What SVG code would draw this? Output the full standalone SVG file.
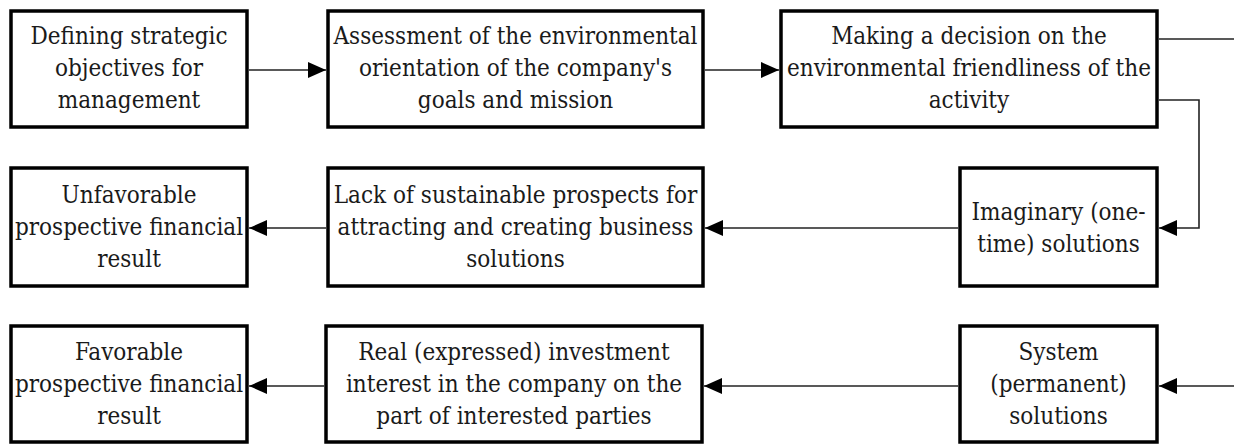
<svg xmlns="http://www.w3.org/2000/svg" width="1234" height="445" viewBox="0 0 1234 445">
  <style>
    .box { fill: #ffffff; stroke: #000000; stroke-width: 3.5; }
    .lbl { font-family: "DejaVu Serif Condensed", serif; font-size: 24px; fill: #1a1a1a; text-anchor: middle; }
    .con { fill: none; stroke: #222222; stroke-width: 1.6; }
  </style>
  <defs>
    <marker id="arr" viewBox="0 0 18 16" refX="18" refY="8" markerWidth="18" markerHeight="16" markerUnits="userSpaceOnUse" orient="auto">
      <path d="M0,0 L18,8 L0,16 Z" fill="#000000"/>
    </marker>
  </defs>
  <rect width="1234" height="445" fill="#ffffff"/>

  <g id="connectors">
    <line class="con" x1="249" y1="70" x2="326" y2="70" marker-end="url(#arr)"/>
    <line class="con" x1="705" y1="70" x2="779" y2="70" marker-end="url(#arr)"/>
    <line class="con" x1="1159" y1="39" x2="1234" y2="39"/>
    <polyline class="con" points="1159,100 1199,100 1199,228 1159,228" marker-end="url(#arr)"/>
    <line class="con" x1="958" y1="228" x2="705" y2="228" marker-end="url(#arr)"/>
    <line class="con" x1="326" y1="228" x2="249" y2="228" marker-end="url(#arr)"/>
    <line class="con" x1="1234" y1="386" x2="1159" y2="386" marker-end="url(#arr)"/>
    <line class="con" x1="958" y1="386" x2="704" y2="386" marker-end="url(#arr)"/>
    <line class="con" x1="324" y1="386" x2="249" y2="386" marker-end="url(#arr)"/>
  </g>

  <g id="n1">
    <rect class="box" x="11" y="11" width="236" height="116"/>
    <text class="lbl" x="129" y="44">Defining strategic</text>
    <text class="lbl" x="129" y="76">objectives for</text>
    <text class="lbl" x="129" y="108">management</text>
  </g>
  <g id="n2">
    <rect class="box" x="328" y="11" width="375" height="116"/>
    <text class="lbl" x="515.5" y="44">Assessment of the environmental</text>
    <text class="lbl" x="515.5" y="76">orientation of the company's</text>
    <text class="lbl" x="515.5" y="108">goals and mission</text>
  </g>
  <g id="n3">
    <rect class="box" x="781" y="11" width="376" height="116"/>
    <text class="lbl" x="969" y="44">Making a decision on the</text>
    <text class="lbl" x="969" y="76">environmental friendliness of the</text>
    <text class="lbl" x="969" y="108">activity</text>
  </g>
  <g id="n4">
    <rect class="box" x="960" y="168" width="197" height="118"/>
    <text class="lbl" x="1058.5" y="220">Imaginary (one-</text>
    <text class="lbl" x="1058.5" y="252">time) solutions</text>
  </g>
  <g id="n5">
    <rect class="box" x="328" y="168" width="375" height="118"/>
    <text class="lbl" x="515.5" y="203">Lack of sustainable prospects for</text>
    <text class="lbl" x="515.5" y="235">attracting and creating business</text>
    <text class="lbl" x="515.5" y="267">solutions</text>
  </g>
  <g id="n6">
    <rect class="box" x="11" y="168" width="236" height="118"/>
    <text class="lbl" x="129" y="203">Unfavorable</text>
    <text class="lbl" x="129" y="235">prospective financial</text>
    <text class="lbl" x="129" y="267">result</text>
  </g>
  <g id="n7">
    <rect class="box" x="960" y="326" width="197" height="116"/>
    <text class="lbl" x="1058.5" y="360">System</text>
    <text class="lbl" x="1058.5" y="392">(permanent)</text>
    <text class="lbl" x="1058.5" y="424">solutions</text>
  </g>
  <g id="n8">
    <rect class="box" x="326" y="326" width="376" height="116"/>
    <text class="lbl" x="514" y="360">Real (expressed) investment</text>
    <text class="lbl" x="514" y="392">interest in the company on the</text>
    <text class="lbl" x="514" y="424">part of interested parties</text>
  </g>
  <g id="n9">
    <rect class="box" x="11" y="326" width="236" height="116"/>
    <text class="lbl" x="129" y="360">Favorable</text>
    <text class="lbl" x="129" y="392">prospective financial</text>
    <text class="lbl" x="129" y="424">result</text>
  </g>
</svg>
